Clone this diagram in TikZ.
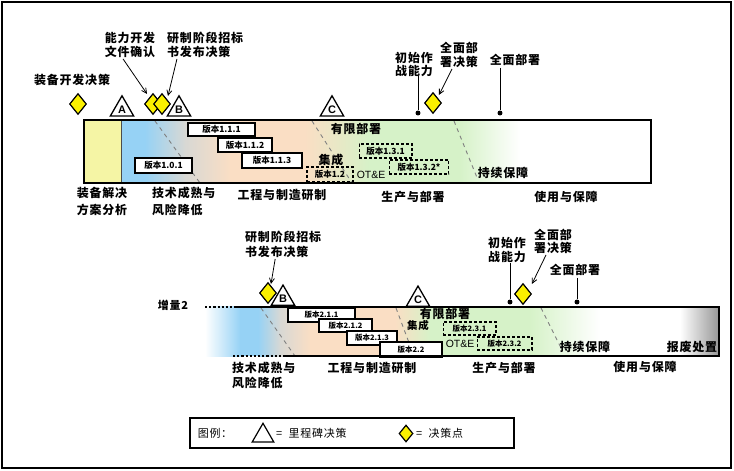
\documentclass[tikz,border=0pt]{standalone}
\usepackage{fontspec}
\setmainfont{Noto Sans CJK SC}[LetterSpace=7]
\newfontfamily\verfont{Noto Sans CJK SC}
\newfontfamily\latin{Liberation Sans}
\usetikzlibrary{shapes.geometric,arrows.meta}
\definecolor{barY}{RGB}{245,245,165}
\definecolor{cBlue}{RGB}{150,210,245}
\definecolor{cGray}{RGB}{216,216,212}
\definecolor{cPeach}{RGB}{250,222,196}
\definecolor{cGreen}{RGB}{214,242,200}
\definecolor{dYel}{RGB}{250,240,0}
\definecolor{cEnd}{RGB}{150,150,150}
\begin{document}
\begin{tikzpicture}[x=1bp,y=-1bp,
  lab/.style={font=\fontsize{12}{14}\selectfont\bfseries, align=center, inner sep=0},
  labw/.style={font=\fontsize{12}{17}\selectfont\bfseries, align=center, inner sep=0},
  labs/.style={font=\fontsize{11}{13}\selectfont, inner sep=0},
  ver/.style={draw, fill=white, line width=1.3, inner sep=0, font=\verfont\fontsize{8.5}{9}\selectfont\bfseries},
  verl/.style={ver, font=\verfont\fontsize{7.5}{8}\selectfont\bfseries},
  verd/.style={draw, line width=1.2, dash pattern=on 3pt off 2pt, inner sep=0, font=\verfont\fontsize{8.5}{9}\selectfont\bfseries},
  verdl/.style={verd, font=\verfont\fontsize{7.5}{8}\selectfont\bfseries},
  milestone/.style={regular polygon, regular polygon sides=3, draw, line width=1.3, fill=white, minimum size=27, inner sep=0, font=\latin\bfseries\fontsize{11}{11}\selectfont},
  dec/.style={diamond, draw, line width=1.2, fill=dYel, minimum width=17, minimum height=21, inner sep=0},
  dotm/.style={circle, fill, inner sep=0, minimum size=5},
  arr/.style={-{Straight Barb[length=5bp,width=5bp]}, line width=0.8},
  phase/.style={gray, line width=0.9, dash pattern=on 4pt off 4pt},
  barline/.style={line width=2.2},
  otestyle/.style={font=\latin\fontsize{10.5}{10}\selectfont, inner sep=0}
]
\useasboundingbox (0,0) rectangle (734,471);
\fill[white] (0,0) rectangle (734,471);
\draw[line width=2.5] (2,2) rectangle (731,468);

% ===== upper bar fills =====
\fill[barY] (84,120) rectangle (121,183);
\fill[cBlue] (121,120) rectangle (145.5,183);
\shade[left color=cBlue, right color=cGray] (145,120) rectangle (185.5,183);
\shade[left color=cGray, right color=cPeach] (185,120) rectangle (230.5,183);
\fill[cPeach] (230,120) rectangle (305.5,183);
\shade[left color=cPeach, right color=cGreen] (305,120) rectangle (370.5,183);
\fill[cGreen] (370,120) rectangle (460.5,183);
\shade[left color=cGreen, right color=white] (460,120) rectangle (520,183);
\draw[line width=0.8, black!70] (121,120) -- (121,183);
\draw[phase] (155,121) -- (200,183);
\draw[phase] (312,121) -- (352,183);
\draw[phase] (454,121) -- (478,180);

% ===== upper version boxes =====
\node[ver, minimum width=67, minimum height=13] (v111) at (221.5,129.5) {版本1.1.1};
\node[ver, minimum width=54, minimum height=14] (v112) at (245,145) {版本1.1.2};
\node[ver, minimum width=60, minimum height=15] (v113) at (272,160.5) {版本1.1.3};
\node[ver, minimum width=57, minimum height=15] (v101) at (163.5,165.5) {版本1.0.1};
\node[verd, minimum width=46, minimum height=15] (v12) at (330,174.5) {版本1.2};
\node[verd, minimum width=53, minimum height=14] (v131) at (385.5,151) {版本1.3.1};
\node[verd, minimum width=60, minimum height=14] (v132) at (419,167) {版本1.3.2*};
\node[lab] (t_xbs1) at (356,129) {有限部署};
\node[lab] (t_jc1) at (331,160) {集成};
\node[otestyle] (t_ote1) at (371,175) {OT\&E};
\node[lab] (t_cx1) at (503,173) {持续保障};
\draw[barline] (84,120) rectangle (651,183);

% ===== upper markers =====
\node[dec] (d0) at (78,104) {};
\node[dec] (d1) at (153,104) {};
\node[dec] (d2) at (162,104) {};
\node[milestone] (mA) at (122,109.25) {A};
\node[milestone] (mB) at (179,109.25) {B};
\node[milestone] (mC) at (332,109.25) {C};
\node[dec] (d3) at (433,103) {};
\node[dotm] (p_ioc1) at (418,113) {};
\node[dotm] (p_fd1) at (500,113) {};

\node[lab] (t_zbkf) at (72,80) {装备开发决策};
\node[lab] (t_nl) at (130,45) {能力开发\\文件确认};
\node[lab, anchor=west, align=left] (t_yz1) at (167,45) {研制阶段招标\\书发布决策};
\node[lab, font=\fontsize{12}{13}\selectfont\bfseries] (t_ioc1) at (414,64) {初始作\\战能力};
\node[lab] (t_frd1) at (459,55) {全面部\\署决策};
\node[lab] (t_fd1) at (515,60) {全面部署};

\draw[arr] ([xshift=-7,yshift=-1]t_nl.south) -- ([xshift=-6,yshift=-1]d1.north);
\draw[arr] ([xshift=10,yshift=-1]t_yz1.south west) -- ([xshift=6,yshift=-3]d2.north);
\draw[line width=0.8] (t_ioc1.south -| p_ioc1) -- (p_ioc1);
\draw[arr] ([xshift=-7,yshift=-1]t_frd1.south) -- ([xshift=6,yshift=-3]d3.north);
\draw[line width=0.8] ([yshift=-2]t_fd1.south -| p_fd1) -- (p_fd1);

% ===== upper phase labels =====
\node[labw] (t_fa1) at (102,201) {装备解决\\方案分析};
\node[labw, anchor=west, align=left] (t_js1) at (152,201) {技术成熟与\\风险降低};
\node[labw] (t_gc1) at (282,195) {工程与制造研制};
\node[labw] (t_sc1) at (413,197) {生产与部署};
\node[labw] (t_sy1) at (566,197) {使用与保障};

% ===== lower bar fills =====
\shade[left color=white, right color=cBlue] (205,307) rectangle (240.5,356);
\fill[cBlue] (240,307) rectangle (258.5,356);
\shade[left color=cBlue, right color=cGray] (258,307) rectangle (280.5,356);
\shade[left color=cGray, right color=cPeach] (280,307) rectangle (310.5,356);
\fill[cPeach] (310,307) rectangle (395.5,356);
\shade[left color=cPeach, right color=cGreen] (395,307) rectangle (430.5,356);
\fill[cGreen] (430,307) rectangle (530.5,356);
\shade[left color=cGreen, right color=white] (530,307) rectangle (600,356);
\shade[left color=white, right color=cEnd] (680,307) rectangle (719,356);
\draw[phase] (261,308) -- (295,356);
\draw[phase] (396,308) -- (414,356);
\draw[phase] (541,308) -- (562,350);

\node[verl, minimum width=67, minimum height=14] (v211) at (321.5,315) {版本2.1.1};
\node[verl, minimum width=53, minimum height=13] (v212) at (345.5,325.5) {版本2.1.2};
\node[verl, minimum width=50, minimum height=14] (v213) at (372,338) {版本2.1.3};
\node[verl, minimum width=62, minimum height=15] (v22) at (411,349.5) {版本2.2};
\node[verdl, minimum width=53, minimum height=13] (v231) at (469.5,328.5) {版本2.3.1};
\node[verdl, minimum width=55, minimum height=13] (v232) at (504.5,343.5) {版本2.3.2};
\node[lab] (t_xbs2) at (445,314) {有限部署};
\node[lab, font=\fontsize{10.5}{12}\selectfont\bfseries] (t_jc2) at (418,326) {集成};
\node[otestyle] (t_ote2) at (460,344) {OT\&E};
\node[lab] (t_cx2) at (585,347) {持续保障};
\node[lab] (t_bf2) at (692,347) {报废处置};

\draw[barline, dotted, line width=1.2] (205,307) -- (235,307);
\draw[barline] (235,307) -- (719,307) -- (719,356) -- (285,356);
\draw[barline, dotted, line width=1.2] (233,356) -- (285,356);

% ===== lower markers =====
\node[lab, font=\fontsize{11}{12}\selectfont\bfseries] (t_inc2) at (173,305) {增量2};
\node[dec] (d4) at (268,293) {};
\node[milestone] (mB2) at (283,298.5) {B};
\node[milestone] (mC2) at (418,299.5) {C};
\node[dec] (d5) at (523,294) {};
\node[dotm] (p_ioc2) at (510,302) {};
\node[dotm] (p_fd2) at (577,302) {};

\node[lab, anchor=west, align=left, font=\fontsize{12}{15}\selectfont\bfseries] (t_yz2) at (245,244.5) {研制阶段招标\\书发布决策};
\node[lab] (t_ioc2) at (507,250) {初始作\\战能力};
\node[lab, font=\fontsize{12}{13}\selectfont\bfseries] (t_frd2) at (553,241.5) {全面部\\署决策};
\node[lab] (t_fd2) at (575,270) {全面部署};

\draw[arr] ([xshift=-8,yshift=-1]t_yz2.south) -- ([xshift=3,yshift=-2]d4.north);
\draw[line width=0.8] (t_ioc2.south -| p_ioc2) -- (p_ioc2);
\draw[arr] ([xshift=-7,yshift=-1]t_frd2.south) -- ([xshift=9,yshift=-1]d5.north);
\draw[line width=0.8] ([yshift=-2]t_fd2.south -| p_fd2) -- (p_fd2);

\node[lab, anchor=west, align=left, font=\fontsize{12}{15}\selectfont\bfseries] (t_js2) at (232,375.5) {技术成熟与\\风险降低};
\node[lab] (t_gc2) at (372,368) {工程与制造研制};
\node[lab] (t_sc2) at (504,368) {生产与部署};
\node[lab] (t_sy2) at (645,367) {使用与保障};

% ===== legend =====
\node[draw, line width=2, minimum width=326, minimum height=30, inner sep=0] (legend) at (352,433) {};
\node[labs] (t_lg) at (215,433) {图例：};
\node[regular polygon, regular polygon sides=3, draw, line width=1.2, minimum size=25, inner sep=0] (lt) at (263,435.75) {};
\node[labs, anchor=west] (t_lt) at (276,433) {=\ \ 里程碑决策};
\node[dec, minimum width=14, minimum height=17] (ld) at (406,433.5) {};
\node[labs, anchor=west] (t_ld) at (416,433) {=\ \ 决策点};
\end{tikzpicture}
\end{document}
